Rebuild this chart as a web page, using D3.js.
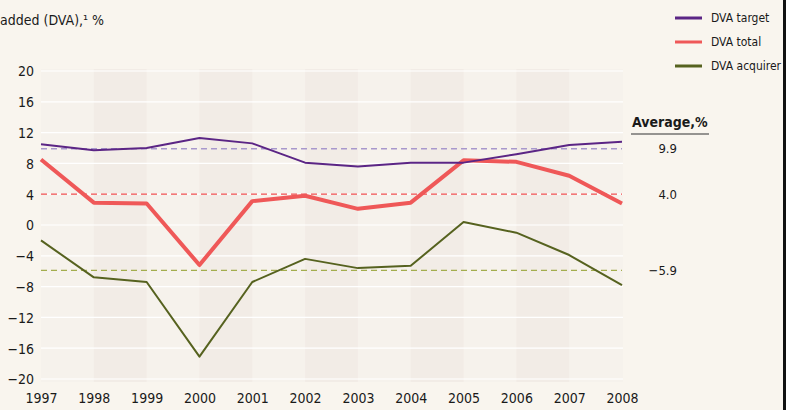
<!DOCTYPE html>
<html>
<head>
<meta charset="utf-8">
<script src="https://cdn.jsdelivr.net/npm/d3@7"></script>
<style>
  body { margin: 0; background: #f9f5ee; }
  svg text { font-family: "Liberation Sans Narrow", "DejaVu Sans Condensed", "Liberation Sans", sans-serif; fill: #1a1a1a; }
</style>
</head>
<body>
<svg id="chart" width="786" height="410"></svg>
<script>
var W = 786, H = 410;

var years = [1997, 1998, 1999, 2000, 2001, 2002, 2003, 2004, 2005, 2006, 2007, 2008];
var dvaTarget   = [10.5, 9.7, 10.0, 11.3, 10.6, 8.1, 7.6, 8.1, 8.1, 9.2, 10.4, 10.8];
var dvaTotal    = [8.5, 2.9, 2.8, -5.2, 3.1, 3.8, 2.1, 2.9, 8.4, 8.2, 6.4, 2.8];
var dvaAcquirer = [-2.0, -6.8, -7.4, -17.1, -7.4, -4.4, -5.6, -5.3, 0.4, -1.0, -3.9, -7.8];

var seriesNames = ['DVA target', 'DVA total', 'DVA acquirer'];
var averages = [9.9, 4.0, -5.9];
var yTicks = [20, 16, 12, 8, 4, 0, -4, -8, -12, -16, -20];

var COLORS = ['#5b2585', '#ef5858', '#56621f'],
    DASH_COLORS = ['#a898cc', '#ee4e4e', '#a3ad4e'],
    WIDTHS = [2, 4, 2];

var svg = d3.select('#chart');

var plotL = 41, plotR = 623, plotT = 69, plotB = 382;

var x = d3.scalePoint().domain(years).range([41, 622]);
var y = d3.scaleLinear().domain([-20, 20]).range([379, 71]);

// plot background + alternating bands
svg.append('rect')
    .attr('x', plotL).attr('y', plotT)
    .attr('width', plotR - plotL).attr('height', plotB - plotT)
    .attr('fill', '#f6f2ec');

var step = x.step();
svg.append('g').selectAll('rect')
    .data(years.slice(1, -1).filter(function (d, i) { return i % 2 == 0; }))
    .enter().append('rect')
    .attr('x', function (d) { return x(d); })
    .attr('y', plotT)
    .attr('width', step)
    .attr('height', plotB - plotT)
    .attr('fill', '#f2ece6');

// white gridlines
svg.append('g').selectAll('line')
    .data(yTicks)
    .enter().append('line')
    .attr('x1', plotL).attr('x2', plotR)
    .attr('y1', function (d) { return y(d); })
    .attr('y2', function (d) { return y(d); })
    .attr('stroke', '#ffffff')
    .attr('stroke-width', 1.2);

// y axis labels
var yAxis = d3.axisLeft(y).tickValues(yTicks).tickSize(0).tickPadding(0)
    .tickFormat(function (d) { return d < 0 ? '\u2212' + Math.abs(d) : d; });
var gy = svg.append('g').attr('transform', 'translate(34,0)').call(yAxis);
gy.select('.domain').remove();
gy.selectAll('text').attr('font-size', 14).attr('dy', '0.35em');

// x axis labels
var xAxis = d3.axisBottom(x).tickSize(0).tickPadding(0);
var gx = svg.append('g').attr('transform', 'translate(0,393)').call(xAxis);
gx.select('.domain').remove();
gx.selectAll('text').attr('font-size', 14).attr('dy', '0.71em');

// average dashed lines
svg.append('g').selectAll('line')
    .data(averages)
    .enter().append('line')
    .attr('x1', 41).attr('x2', 622)
    .attr('y1', function (d) { return y(d); })
    .attr('y2', function (d) { return y(d); })
    .attr('stroke', function (d, i) { return DASH_COLORS[i]; })
    .attr('stroke-width', 1.3)
    .attr('stroke-dasharray', '6,4');

// series lines
var series = [dvaTarget, dvaTotal, dvaAcquirer];
var line = d3.line()
    .x(function (d, i) { return x(years[i]); })
    .y(function (d) { return y(d); });

// draw total first so the thin lines stay on top like the original
[1, 2, 0].forEach(function (k) {
    svg.append('path')
        .datum(series[k])
        .attr('d', line)
        .attr('fill', 'none')
        .attr('stroke', COLORS[k])
        .attr('stroke-width', WIDTHS[k])
        .attr('stroke-linejoin', 'round');
});

// average panel
svg.append('text')
    .attr('x', 632).attr('y', 127)
    .attr('font-size', 14).attr('font-weight', 'bold')
    .text('Average,%');
svg.append('line')
    .attr('x1', 631).attr('x2', 709)
    .attr('y1', 134).attr('y2', 134)
    .attr('stroke', '#333').attr('stroke-width', 1.2);
svg.append('g').selectAll('text')
    .data(averages)
    .enter().append('text')
    .attr('x', 677)
    .attr('y', function (d) { return y(d); })
    .attr('dy', '0.35em')
    .attr('text-anchor', 'end')
    .attr('font-size', 13)
    .text(function (d) { return d < 0 ? '\u2212' + Math.abs(d).toFixed(1) : d.toFixed(1); });

// legend
var legend = svg.append('g').selectAll('g')
    .data(seriesNames)
    .enter().append('g')
    .attr('transform', function (d, i) { return 'translate(675,' + (18 + i * 24) + ')'; });
legend.append('line')
    .attr('x1', 0).attr('x2', 27)
    .attr('stroke', function (d, i) { return COLORS[i]; })
    .attr('stroke-width', 3);
legend.append('text')
    .attr('x', 36).attr('dy', '0.35em')
    .attr('font-size', 12)
    .text(function (d) { return d; });

// title fragment
svg.append('text')
    .attr('x', 0).attr('y', 25)
    .attr('font-size', 14)
    .text('added (DVA),\u00b9 %');

// right border
svg.append('rect')
    .attr('x', W - 3).attr('y', 0)
    .attr('width', 3).attr('height', H)
    .attr('fill', '#111');
</script>
</body>
</html>
